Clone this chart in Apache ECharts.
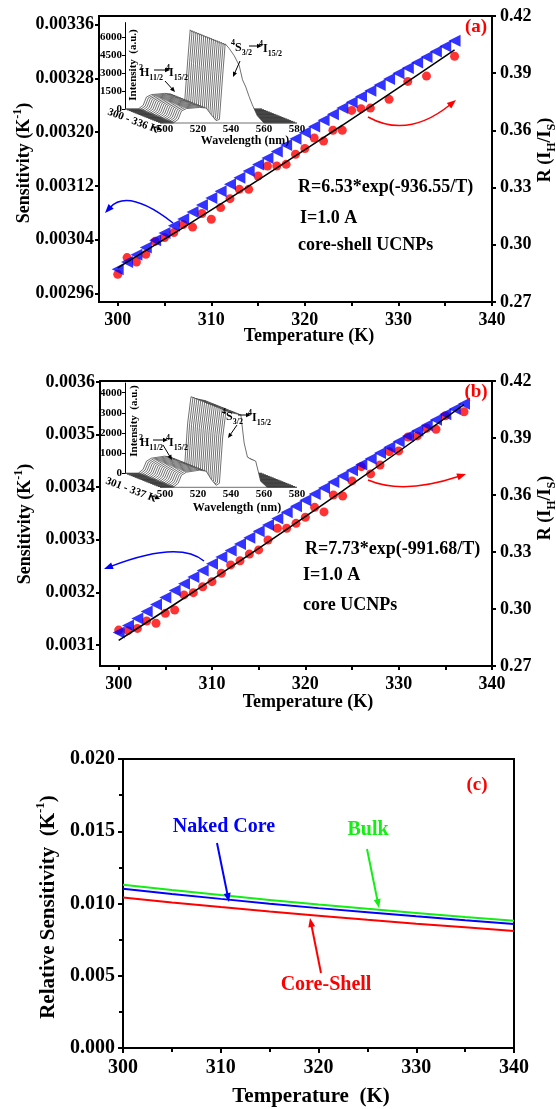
<!DOCTYPE html>
<html><head><meta charset="utf-8">
<script src="https://cdn.jsdelivr.net/npm/echarts@6/dist/echarts.min.js"></script>
<style>html,body{margin:0;padding:0;background:#fff}#c{width:556px;height:1109px}</style>
</head><body><div id="c"></div>
<script>
// ---------------- DATA ----------------
// Panel (a): core-shell UCNPs
const tempA = [300,301,302,303,304,305,306,307,308,309,310,311,312,313,314,315,316,317,318,319,320,321,322,323,324,325,326,327,328,329,330,331,332,333,334,335,336];
const sensA = [0.0029956,0.0030066,0.0030175,0.0030283,0.0030390,0.0030497,0.0030604,0.0030708,0.0030812,0.0030915,0.0031018,0.0031121,0.0031224,0.0031322,0.0031420,0.0031518,0.0031615,0.0031712,0.0031809,0.0031901,0.0031993,0.0032085,0.0032176,0.0032268,0.0032359,0.0032445,0.0032532,0.0032618,0.0032704,0.0032790,0.0032876,0.0032957,0.0033038,0.0033119,0.0033200,0.0033281,0.0033362];
const tempRA = [300,301,302,303,304,305,306,307,308,309,310,311,312,313,314,315,316,317,318,319,320,321,322,323,324,325,326,327,329,331,333,336];
const ratioA = [0.2845,0.2933,0.2910,0.2950,0.3018,0.3038,0.3064,0.3106,0.3093,0.3164,0.3134,0.3195,0.3242,0.3291,0.3291,0.3361,0.3413,0.3413,0.3422,0.3475,0.3505,0.3560,0.3544,0.3601,0.3601,0.3705,0.3714,0.3717,0.3763,0.3857,0.3885,0.3989];
const fitTA = [300,306,312,318,324,330,336];
const fitRA = [0.2879,0.3060,0.3245,0.3435,0.3627,0.3823,0.4022];
// Panel (b): core UCNPs
const tempB = [300,301,302,303,304,305,306,307,308,309,310,311,312,313,314,315,316,317,318,319,320,321,322,323,324,325,326,327,328,329,330,331,332,333,334,335,336,337];
const sensB = [0.0031239,0.0031372,0.0031505,0.0031638,0.0031771,0.0031905,0.0032038,0.0032165,0.0032291,0.0032418,0.0032545,0.0032671,0.0032798,0.0032919,0.0033040,0.0033161,0.0033282,0.0033403,0.0033524,0.0033639,0.0033754,0.0033869,0.0033984,0.0034099,0.0034214,0.0034323,0.0034432,0.0034541,0.0034651,0.0034760,0.0034869,0.0034972,0.0035076,0.0035179,0.0035282,0.0035386,0.0035489,0.0035589];
const tempRB = [300,301,302,303,304,305,306,307,308,309,310,311,312,313,314,315,316,317,318,319,320,321,322,323,324,325,326,327,328,329,330,331,332,333,334,335,337];
const ratioB = [0.2889,0.2886,0.2898,0.2937,0.2925,0.2977,0.2995,0.3074,0.3086,0.3117,0.3144,0.3188,0.3232,0.3254,0.3289,0.3311,0.3363,0.3425,0.3425,0.3451,0.3483,0.3535,0.3511,0.3600,0.3595,0.3674,0.3749,0.3711,0.3758,0.3828,0.3832,0.3905,0.3911,0.3951,0.3946,0.4017,0.4038];
const fitTB = [300,306,312,318,324,330,337];
const fitRB = [0.2835,0.3025,0.3220,0.3419,0.3622,0.3829,0.4076];
// Panel (c): relative sensitivity
const tempC = [300,305,310,315,320,325,330,335,340];
const relBulk = [0.01130,0.01093,0.01058,0.01025,0.00993,0.00963,0.00934,0.00906,0.00880];
const relCore = [0.01102,0.01066,0.01032,0.00999,0.00968,0.00939,0.00911,0.00884,0.00858];
const relCoreShell = [0.01041,0.01007,0.00975,0.00944,0.00915,0.00887,0.00860,0.00835,0.00810];
// Tick labels
const xTicksMain = [300,305,310,315,320,325,330,335,340];
const xLabelsMain = [300,310,320,330,340];
const sensTicksA = [0.00296,0.00304,0.00312,0.00320,0.00328,0.00336];
const sensTicksB = [0.0031,0.0032,0.0033,0.0034,0.0035,0.0036];
const ratioTicks = [0.27,0.30,0.33,0.36,0.39,0.42];
// Insets: emission spectra (waterfall)
const insetTempsA = [300,302,304,306,308,310,312,314,316,318,320,322,324,326,328,330,332,334,336];
const insetTempsB = [301,303,305,307,309,311,313,315,317,319,321,323,325,327,329,331,333,335,337];
const specWlA  = [497,505,508,510,513,517,521,525,528,531,533,535,536.5,539,542,545,547,549,551,553,556,560,580];
const specIntA = [0,0,300,1000,1200,1250,1300,1250,700,200,300,4000,6600,6200,5600,4800,3600,3000,2200,1500,600,0,0];
const specWlB  = [497,505,508,510,513,517,521,525,528,531,533,535,537,540,543,546,548,550,552,555,558,562,580];
const specIntB = [0,0,200,600,750,800,850,800,400,100,200,2500,3800,3700,3650,3600,2200,1500,1400,1300,300,0,0];
const insetIntTicksA = [0,1500,3000,4500,6000];
const insetIntTicksB = [0,1000,2000,3000,4000];
const insetWlTicks = [500,520,540,560,580];

// ---------------- STYLE ----------------
const FF = '"Liberation Serif","Times New Roman",serif';
const BLUE = '#0000ff', RED = '#ff0000', GREEN = '#14ee14';
const pxPerNm = 1.65, depthDx = 35, depthDy = 14;
const insetW = 150;
const wlMin = 497, wlMax = wlMin + insetW / pxPerNm;

function zip(a, b) { return a.map((v, i) => [v, b[i]]); }

function mainX(grid) {
  return { gridIndex: grid, type: 'value', min: 298, max: 340,
    axisLine: { lineStyle: { color: '#000', width: 2 } },
    axisTick: { customValues: xTicksMain, length: 4, lineStyle: { width: 2, color: '#000' } },
    axisLabel: { customValues: xLabelsMain, margin: 9, fontFamily: FF, fontWeight: 'bold', fontSize: 18, color: '#000' },
    splitLine: { show: false } };
}
function mainY(grid, min, max, ticks, dec, pos) {
  return { gridIndex: grid, type: 'value', min, max, position: pos,
    axisLine: { show: true, lineStyle: { color: '#000', width: 2 } },
    axisTick: { show: true, customValues: ticks, length: 4, lineStyle: { width: 2, color: '#000' } },
    axisLabel: { customValues: ticks, margin: pos === 'right' ? 8 : 5, fontFamily: FF, fontWeight: 'bold', fontSize: 18, color: '#000',
      formatter: v => v.toFixed(dec) },
    splitLine: { show: false } };
}
function insetBackX(grid) {
  return { gridIndex: grid, type: 'value', min: wlMin, max: wlMax, show: false };
}
function insetFrontX(grid) {
  return { gridIndex: grid, type: 'value', min: wlMin, max: wlMax,
    axisLine: { show: false }, axisTick: { show: false }, splitLine: { show: false },
    axisLabel: { customValues: insetWlTicks, margin: 1, fontFamily: FF, fontWeight: 'bold', fontSize: 11, color: '#000', formatter: v => String(v) } };
}
function insetY(grid, max, ticks) {
  return { gridIndex: grid, type: 'value', min: 0, max,
    axisLine: { show: true, lineStyle: { color: '#000', width: 1 } },
    axisTick: { show: true, customValues: ticks, length: 3, lineStyle: { color: '#000' } },
    axisLabel: { customValues: ticks, margin: 3, fontFamily: FF, fontWeight: 'bold', fontSize: 11, color: '#000', formatter: v => String(v) },
    splitLine: { show: false } };
}
function hiddenY(grid) { return { gridIndex: grid, type: 'value', min: 0, max: 1, show: false }; }

function spectraSeries(xi, yi, temps, wl, inten, intPerPx) {
  const n = temps.length;
  const shiftWl = depthDx / pxPerNm, shiftI = depthDy * intPerPx;
  return {
    type: 'custom', xAxisIndex: xi, yAxisIndex: yi, clip: false, silent: true, z: 5,
    data: temps.map((t, i) => [i, t]),
    renderItem: function (params, api) {
      const f = api.value(0) / (n - 1);
      const pts = [api.coord([wl[0] + f * shiftWl, -f * shiftI])];
      for (let j = 0; j < wl.length; j++) pts.push(api.coord([wl[j] + f * shiftWl, inten[j] - f * shiftI]));
      pts.push(api.coord([wl[wl.length - 1] + f * shiftWl, -f * shiftI]));
      return { type: 'polygon', shape: { points: pts }, style: { fill: '#fff', stroke: '#333', lineWidth: 0.7 } };
    }
  };
}

// ---------------- GRAPHIC HELPERS ----------------
function T(x, y, text, size, color, o) {
  o = o || {};
  const st = { text, x: 0, y: 0, fill: color || '#000', fontSize: size, fontWeight: 'bold', fontFamily: FF,
    align: o.align || 'left', textAlign: o.align || 'left', verticalAlign: 'middle', textVerticalAlign: 'middle' };
  if (o.rich) st.rich = o.rich;
  return { type: 'text', x, y, rotation: o.rotation || 0, style: st, z: 100 };
}
function richSS(small, main) {
  return {
    sup: { fontSize: small, fontWeight: 'bold', fontFamily: FF, verticalAlign: 'top', lineHeight: small + 1 },
    sub: { fontSize: small, fontWeight: 'bold', fontFamily: FF, verticalAlign: 'bottom', lineHeight: small + 1 },
    m: { fontSize: main, fontWeight: 'bold', fontFamily: FF, lineHeight: Math.round(main * 1.4) }
  };
}
function arrow(x0, y0, x1, y1, color, lw, hl, hw, cx, cy) {
  const els = [];
  let px = cx, py = cy;
  if (cx === undefined) { px = x0; py = y0; }
  const dx = x1 - px, dy = y1 - py, L = Math.hypot(dx, dy), ux = dx / L, uy = dy / L;
  const bx = x1 - ux * hl * 0.8, by = y1 - uy * hl * 0.8;
  if (cx === undefined) els.push({ type: 'line', shape: { x1: x0, y1: y0, x2: bx, y2: by }, style: { stroke: color, lineWidth: lw }, z: 100 });
  else els.push({ type: 'bezierCurve', shape: { x1: x0, y1: y0, x2: bx, y2: by, cpx1: cx, cpy1: cy }, style: { stroke: color, lineWidth: lw, fill: 'none' }, z: 100 });
  const hx = x1 - ux * hl, hy = y1 - uy * hl;
  els.push({ type: 'polygon', shape: { points: [[x1, y1], [hx - uy * hw, hy + ux * hw], [hx + uy * hw, hy - ux * hw]] }, style: { fill: color }, z: 100 });
  return els;
}

const graphics = [].concat(
  // Panel (a)
  [T(476, 27, '(a)', 19, RED, { align: 'center' }),
   T(298, 187, 'R=6.53*exp(-936.55/T)', 18),
   T(300, 218, 'I=1.0 A', 18),
   T(298, 245, 'core-shell UCNPs', 18),
   T(309, 336, 'Temperature (K)', 18, '#000', { align: 'center' }),
   T(24, 163, '{m|Sensitivity (K}{sup|-1}{m|)}', 18, '#000', { align: 'center', rotation: Math.PI / 2, rich: richSS(12, 18) }),
   T(545, 150, '{m|R (I}{sub|H}{m|/I}{sub|S}{m|)}', 18, '#000', { align: 'center', rotation: Math.PI / 2, rich: richSS(12, 18) })],
  arrow(173, 223, 105, 213, BLUE, 1.5, 9, 3.5, 128, 188),
  arrow(368, 117, 456, 100, RED, 1.5, 9, 3.5, 408, 139),
  // Inset (a)
  [T(133, 65, 'Intensity  (a.u.)', 11, '#000', { align: 'center', rotation: Math.PI / 2 }),
   T(245, 141, 'Wavelength (nm)', 12, '#000', { align: 'center' }),
   T(133, 121, '300 - 336 K', 11, '#000', { align: 'center', rotation: -0.36 }),
   T(140, 73, '{m|H}{sub|11/2}', 12, '#000', { rich: richSS(8, 12) }),
   T(139, 68, '2', 8),
   T(169, 73, '{m|I}{sub|15/2}', 12, '#000', { rich: richSS(8, 12) }),
   T(166, 68, '4', 8),
   T(235, 48, '{m|S}{sub|3/2}', 12, '#000', { rich: richSS(8, 12) }),
   T(231, 43, '4', 8),
   T(263, 49, '{m|I}{sub|15/2}', 12, '#000', { rich: richSS(8, 12) }),
   T(259, 44, '4', 8)],
  arrow(154, 70, 170, 70, '#000', 1, 5, 2.2),
  arrow(249, 46, 262, 46, '#000', 1, 5, 2.2),
  arrow(165, 81, 175, 92, '#000', 1, 5, 2.2),
  arrow(240, 61, 233, 77, '#000', 1, 5, 2.2),
  arrow(152, 126, 162, 130, '#000', 1, 5, 2.2),
  // Panel (b)
  [T(476, 392, '(b)', 19, RED, { align: 'center' }),
   T(305, 549, 'R=7.73*exp(-991.68/T)', 18),
   T(303, 575, 'I=1.0 A', 18),
   T(303, 605, 'core UCNPs', 18),
   T(308, 702, 'Temperature (K)', 18, '#000', { align: 'center' }),
   T(25, 524, '{m|Sensitivity (K}{sup|-1}{m|)}', 18, '#000', { align: 'center', rotation: Math.PI / 2, rich: richSS(12, 18) }),
   T(545, 508, '{m|R (I}{sub|H}{m|/I}{sub|S}{m|)}', 18, '#000', { align: 'center', rotation: Math.PI / 2, rich: richSS(12, 18) })],
  arrow(204, 561, 104, 569, BLUE, 1.5, 9, 3.5, 179, 540),
  arrow(368, 480, 466, 474, RED, 1.5, 9, 3.5, 403, 495),
  // Inset (b)
  [T(134, 421, 'Intensity  (a.u.)', 11, '#000', { align: 'center', rotation: Math.PI / 2 }),
   T(237, 508, 'Wavelength (nm)', 12, '#000', { align: 'center' }),
   T(131, 490, '301 - 337 K', 11, '#000', { align: 'center', rotation: -0.36 }),
   T(140, 443, '{m|H}{sub|11/2}', 12, '#000', { rich: richSS(8, 12) }),
   T(139, 438, '2', 8),
   T(169, 443, '{m|I}{sub|15/2}', 12, '#000', { rich: richSS(8, 12) }),
   T(166, 438, '4', 8),
   T(226, 417, '{m|S}{sub|3/2}', 12, '#000', { rich: richSS(8, 12) }),
   T(222, 412, '4', 8),
   T(252, 418, '{m|I}{sub|15/2}', 12, '#000', { rich: richSS(8, 12) }),
   T(248, 413, '4', 8)],
  arrow(153, 440, 168, 440, '#000', 1, 5, 2.2),
  arrow(238, 415, 251, 415, '#000', 1, 5, 2.2),
  arrow(163, 445, 172, 460, '#000', 1, 5, 2.2),
  arrow(237, 425, 228, 438, '#000', 1, 5, 2.2),
  arrow(150, 495, 160, 499, '#000', 1, 5, 2.2),
  // Panel (c)
  [T(477, 785, '(c)', 19, RED, { align: 'center' }),
   T(224, 827, 'Naked Core', 20, BLUE, { align: 'center' }),
   T(368, 830, 'Bulk', 20, GREEN, { align: 'center' }),
   T(326, 985, 'Core-Shell', 20, RED, { align: 'center' }),
   T(311, 1097, 'Temperature  (K)', 21, '#000', { align: 'center' }),
   T(49, 907, '{m|Relative Sensitivity  (K}{sup|-1}{m|)}', 21, '#000', { align: 'center', rotation: Math.PI / 2, rich: richSS(13, 21) })],
  arrow(217, 843, 229, 902, BLUE, 2, 9, 3.5),
  arrow(367, 849, 379, 908, GREEN, 2, 9, 3.5),
  arrow(321, 973, 310, 918, RED, 2, 9, 3.5)
);

const option = {
  backgroundColor: '#fff',
  animation: false,
  grid: [
    { left: 99, top: 16, width: 393, height: 286, show: true, borderColor: '#000', borderWidth: 2, containLabel: false },
    { left: 100, top: 381, width: 392, height: 285, show: true, borderColor: '#000', borderWidth: 2 },
    { left: 123, top: 759, width: 391, height: 289, show: true, borderColor: '#000', borderWidth: 2 },
    { left: 125, top: 22.6, width: insetW, height: 86.4 },
    { left: 125 + depthDx, top: 50, width: insetW, height: 109 + depthDy - 50 },
    { left: 125, top: 383, width: insetW, height: 90.3 },
    { left: 125 + depthDx, top: 420, width: insetW, height: 473.3 + depthDy - 420 }
  ],
  xAxis: [
    mainX(0), mainX(1),
    { gridIndex: 2, type: 'value', min: 300, max: 340, interval: 10,
      axisLine: { lineStyle: { color: '#000', width: 2 } },
      axisTick: { length: 5, lineStyle: { width: 2, color: '#000' } },
      minorTick: { show: true, splitNumber: 2, length: 4, lineStyle: { width: 2, color: '#000' } },
      axisLabel: { margin: 10, fontFamily: FF, fontWeight: 'bold', fontSize: 20, color: '#000' },
      splitLine: { show: false } },
    insetBackX(3), insetFrontX(4), insetBackX(5), insetFrontX(6)
  ],
  yAxis: [
    mainY(0, 0.002947, 0.003373, sensTicksA, 5, 'left'),
    mainY(0, 0.27, 0.42, ratioTicks, 2, 'right'),
    mainY(1, 0.00306, 0.003602, sensTicksB, 4, 'left'),
    mainY(1, 0.27, 0.42, ratioTicks, 2, 'right'),
    { gridIndex: 2, type: 'value', min: 0, max: 0.02, interval: 0.005,
      axisLine: { show: true, lineStyle: { color: '#000', width: 2 } },
      axisTick: { show: true, length: 5, lineStyle: { width: 2, color: '#000' } },
      minorTick: { show: true, splitNumber: 2, length: 4, lineStyle: { width: 2, color: '#000' } },
      axisLabel: { margin: 8, fontFamily: FF, fontWeight: 'bold', fontSize: 20, color: '#000', formatter: v => v.toFixed(3) },
      splitLine: { show: false } },
    insetY(3, 7200, insetIntTicksA), hiddenY(4),
    insetY(5, 4480, insetIntTicksB), hiddenY(6)
  ],
  series: [
    { type: 'scatter', xAxisIndex: 0, yAxisIndex: 1, data: zip(tempRA, ratioA), symbol: 'circle', symbolSize: 9, itemStyle: { color: RED }, z: 2 },
    { type: 'scatter', xAxisIndex: 0, yAxisIndex: 0, data: zip(tempA, sensA), symbol: 'triangle', symbolRotate: 90, symbolSize: 12, itemStyle: { color: BLUE }, z: 3 },
    { type: 'line', xAxisIndex: 0, yAxisIndex: 1, data: zip(fitTA, fitRA), smooth: true, showSymbol: false, lineStyle: { color: '#000', width: 1.5 }, z: 4 },
    { type: 'scatter', xAxisIndex: 1, yAxisIndex: 3, data: zip(tempRB, ratioB), symbol: 'circle', symbolSize: 9, itemStyle: { color: RED }, z: 2 },
    { type: 'scatter', xAxisIndex: 1, yAxisIndex: 2, data: zip(tempB, sensB), symbol: 'triangle', symbolRotate: 90, symbolSize: 12, itemStyle: { color: BLUE }, z: 3 },
    { type: 'line', xAxisIndex: 1, yAxisIndex: 3, data: zip(fitTB, fitRB), smooth: true, showSymbol: false, lineStyle: { color: '#000', width: 1.5 }, z: 4 },
    { type: 'line', xAxisIndex: 2, yAxisIndex: 4, data: zip(tempC, relBulk), showSymbol: false, lineStyle: { color: GREEN, width: 2 } },
    { type: 'line', xAxisIndex: 2, yAxisIndex: 4, data: zip(tempC, relCore), showSymbol: false, lineStyle: { color: BLUE, width: 2 } },
    { type: 'line', xAxisIndex: 2, yAxisIndex: 4, data: zip(tempC, relCoreShell), showSymbol: false, lineStyle: { color: RED, width: 2 } },
    spectraSeries(3, 5, insetTempsA, specWlA, specIntA, 7200 / 86.4),
    spectraSeries(5, 7, insetTempsB, specWlB, specIntB, 4480 / 90.3)
  ],
  graphic: { elements: graphics }
};
const chart = echarts.init(document.getElementById('c'), null, { renderer: 'canvas' });
chart.setOption(option);
</script></body></html>
